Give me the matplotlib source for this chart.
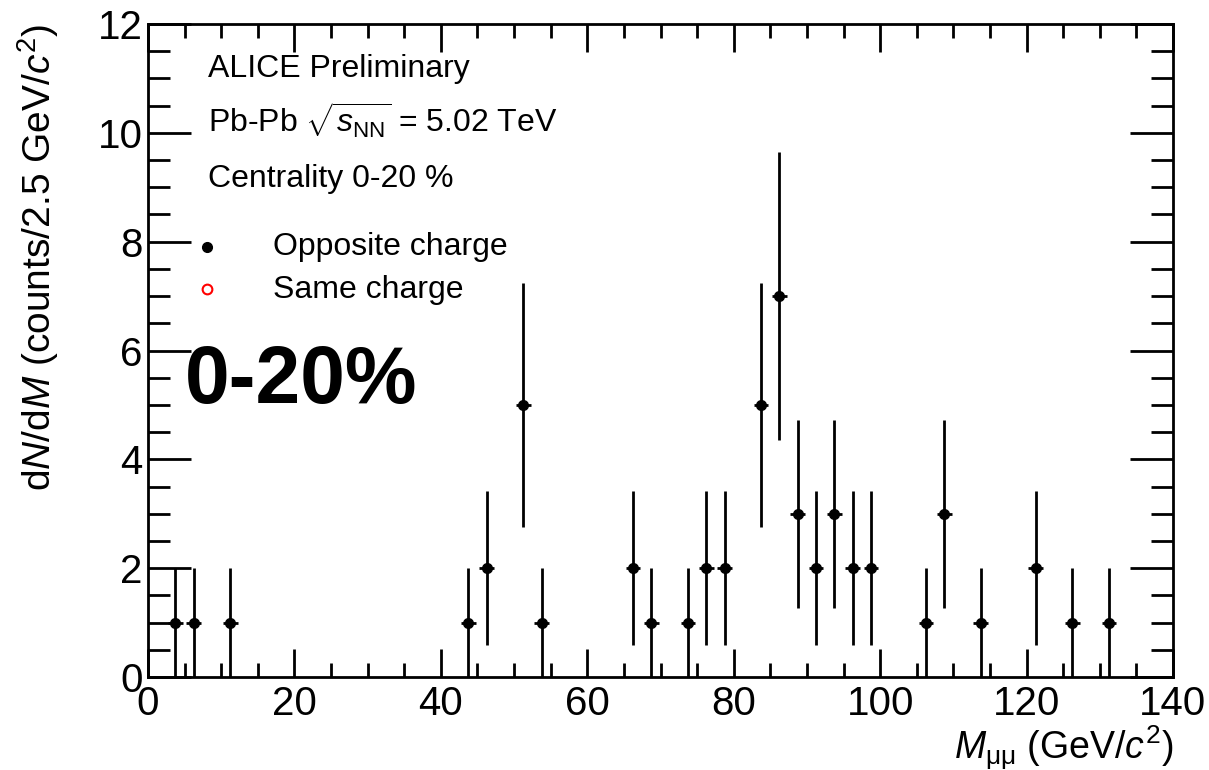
import numpy as np
import matplotlib
matplotlib.use('Agg')
import matplotlib.pyplot as plt
from matplotlib.ticker import MultipleLocator

# Opposite-charge dimuon counts per 2.5 GeV bin
mass = [3.75, 6.25, 11.25, 43.75, 46.25, 51.25, 53.75, 66.25, 68.75, 73.75,
        76.25, 78.75, 83.75, 86.25, 88.75, 91.25, 93.75, 96.25, 98.75,
        106.25, 108.75, 113.75, 121.25, 126.25, 131.25]
counts = [1, 1, 1, 1, 2, 5, 1, 2, 1, 1,
          2, 2, 5, 7, 3, 2, 3, 2, 2,
          1, 3, 1, 2, 1, 1]
count_err = [1.0, 1.0, 1.0, 1.0, 1.41, 2.24, 1.0, 1.41, 1.0, 1.0,
             1.41, 1.41, 2.24, 2.65, 1.73, 1.41, 1.73, 1.41, 1.41,
             1.0, 1.73, 1.0, 1.41, 1.0, 1.0]
mass_err = [1.0] * len(mass)

plt.rcParams['font.family'] = ['Liberation Sans', 'DejaVu Sans']
plt.rcParams['mathtext.fontset'] = 'custom'
plt.rcParams['mathtext.rm'] = 'Liberation Sans'
plt.rcParams['mathtext.it'] = 'Liberation Sans:italic'

fig = plt.figure(figsize=(12.09, 7.70), dpi=100)
ax = fig.add_axes([148 / 1209, 1 - 677 / 770, 1025 / 1209, 653 / 770])

ax.errorbar(mass, counts, yerr=count_err, xerr=mass_err, fmt='o', color='black',
            markersize=7, elinewidth=2, capsize=0)

ax.set_xlim(0, 140)
ax.set_ylim(0, 12)
ax.xaxis.set_major_locator(MultipleLocator(20))
ax.xaxis.set_minor_locator(MultipleLocator(5))
ax.yaxis.set_major_locator(MultipleLocator(2))
ax.yaxis.set_minor_locator(MultipleLocator(0.5))
ax.tick_params(which='both', direction='in', top=True, right=True, width=2,
               labelsize=29)
ax.tick_params(axis='x', which='major', length=20, pad=6)
ax.tick_params(axis='x', which='minor', length=10)
ax.tick_params(axis='y', which='major', length=31, pad=4)
ax.tick_params(axis='y', which='minor', length=16)
for s in ax.spines.values():
    s.set_linewidth(2)

ax.set_xlabel(r'$M_{\mathrm{\mu\mu}}$ (GeV/$c^2$)', fontsize=27, ha='right', va='baseline')
ax.xaxis.set_label_coords(1.0, -0.125)
ax.set_ylabel(r'd$N$/d$M$ (counts/2.5 GeV/$c^2$)', fontsize=28, loc='top', labelpad=26)

ax.text(0.0585, 0.919, 'ALICE Preliminary', transform=ax.transAxes, fontsize=23, va='baseline')
ax.text(0.0585, 0.833, r'Pb-Pb $\sqrt{s_{\mathrm{NN}}}$ = 5.02 TeV', transform=ax.transAxes,
        fontsize=23, va='baseline')
ax.text(0.0585, 0.750, 'Centrality 0-20 %', transform=ax.transAxes, fontsize=23, va='baseline')

ax.plot([0.0576], [0.6585], 'o', color='black', markersize=7, transform=ax.transAxes, clip_on=False)
ax.text(0.122, 0.646, 'Opposite charge', transform=ax.transAxes, fontsize=23, va='baseline')
ax.plot([0.0576], [0.594], 'o', mfc='none', mec='red', markersize=7, mew=1.5,
        transform=ax.transAxes, clip_on=False)
ax.text(0.122, 0.580, 'Same charge', transform=ax.transAxes, fontsize=23, va='baseline')

ax.text(0.036, 0.4196, '0-20%', transform=ax.transAxes, fontsize=58, fontweight='bold',
        va='baseline')

fig.savefig('out.png', dpi=100)
